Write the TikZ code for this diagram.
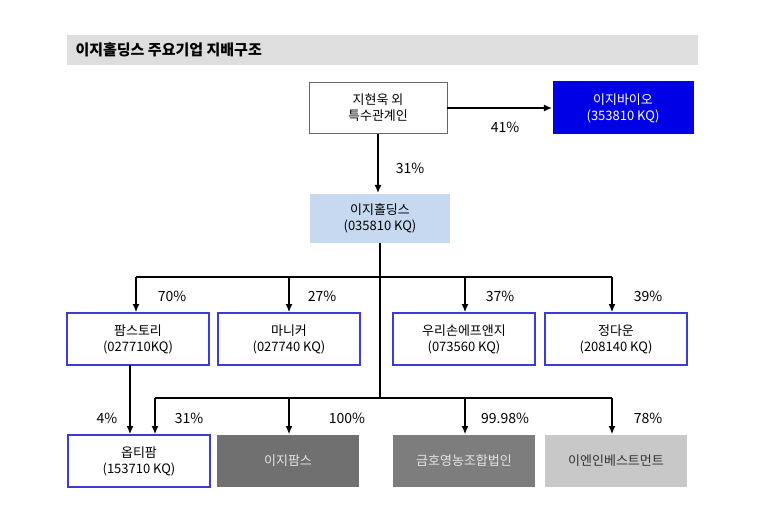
\documentclass[tikz,border=0pt]{standalone}
\usepackage{fontspec}
\setmainfont{Noto Sans CJK KR}
\usetikzlibrary{arrows.meta}
\definecolor{titlegray}{RGB}{222,222,222}
\definecolor{bluefill}{RGB}{0,0,230}
\definecolor{lightblue}{RGB}{198,217,240}
\definecolor{boxblue}{RGB}{60,60,210}
\definecolor{darkgray}{RGB}{112,112,112}
\definecolor{midgray}{RGB}{125,125,125}
\definecolor{palegray}{RGB}{200,200,200}
\tikzset{
    corp/.style={draw=boxblue, line width=1.3pt, minimum width=142pt, minimum height=52pt, align=center, font=\fontsize{13}{16}\selectfont, inner sep=0pt},
    pct/.style={font=\fontsize{14}{16}\selectfont},
    own/.style={-{Latex[length=8pt,width=7pt]}, line width=1.1pt}
}
\begin{document}
\begin{tikzpicture}[x=1pt,y=-1pt]
    \useasboundingbox (0,0) rectangle (773,513);
    \fill[white] (0,0) rectangle (773,513);

    % title
    \fill[titlegray] (67,35) rectangle (698,65);
    \node[right, font=\bfseries\fontsize{15}{17}\selectfont] (title) at (72,50) {이지홀딩스 주요기업 지배구조};

    % top
    \node[corp, draw=black!60, line width=0.6pt, minimum width=138pt, minimum height=51pt] (owner) at (378,108) {지현욱 외\\특수관계인};
    \node[corp, draw=none, fill=bluefill, text=white, minimum width=141pt, minimum height=53pt] (bio) at (623,108) {이지바이오\\(353810 KQ)};
    \node[corp, draw=none, fill=lightblue, minimum width=140pt, minimum height=49pt] (hold) at (380,218) {이지홀딩스\\(035810 KQ)};
    \draw[own] (owner.east) -- (bio.west);
    \node[pct] (p41) at (505,127) {41\%};
    \draw[own] (owner.south) -- (owner.south |- hold.north);
    \node[pct] (p31a) at (410,168) {31\%};

    % second row
    \node[corp] (farm) at (138,339) {팜스토리\\(027710KQ)};
    \node[corp] (mani) at (289,339) {마니커\\(027740 KQ)};
    \node[corp] (woori) at (464,339) {우리손에프앤지\\(073560 KQ)};
    \node[corp] (jdw) at (616,339) {정다운\\(208140 KQ)};

    % third row
    \node[corp] (opti) at (139,461) {옵티팜\\(153710 KQ)};
    \node[corp, draw=none, fill=darkgray, text=white!90!black] (ezf) at (288,461) {이지팜스};
    \node[corp, draw=none, fill=midgray, text=white!90!black] (kumho) at (464,461) {금호영농조합법인};
    \node[corp, draw=none, fill=palegray, text=black!80] (en) at (616,461) {이엔인베스트먼트};

    % bus lines
    \coordinate (bus1) at (380,277);
    \coordinate (bus2) at (380,398);
    \draw[line width=1.1pt] (hold.south) -- (bus2);
    \draw[line width=1.1pt] (136,277) -- (612,277);
    \draw[line width=1.1pt] (155,398) -- (612,398);
    \foreach \x/\n in {136/farm,289/mani,465/woori,612/jdw} {
        \draw[own] (\x,277) -- (\x,312);
    }
    \foreach \x/\n in {155/opti,289/ezf,465/kumho,612/en} {
        \draw[own] (\x,398) -- (\x,434);
    }
    \draw[own] (130,365) -- (130,434);

    \node[pct] (p70) at (172,296) {70\%};
    \node[pct] (p27) at (322,296) {27\%};
    \node[pct] (p37) at (500,296) {37\%};
    \node[pct] (p39) at (648,296) {39\%};
    \node[pct] (p4) at (107,418) {4\%};
    \node[pct] (p31b) at (189,418) {31\%};
    \node[pct] (p100) at (347,418) {100\%};
    \node[pct] (p9998) at (505,418) {99.98\%};
    \node[pct] (p78) at (648,418) {78\%};
\end{tikzpicture}
\end{document}
